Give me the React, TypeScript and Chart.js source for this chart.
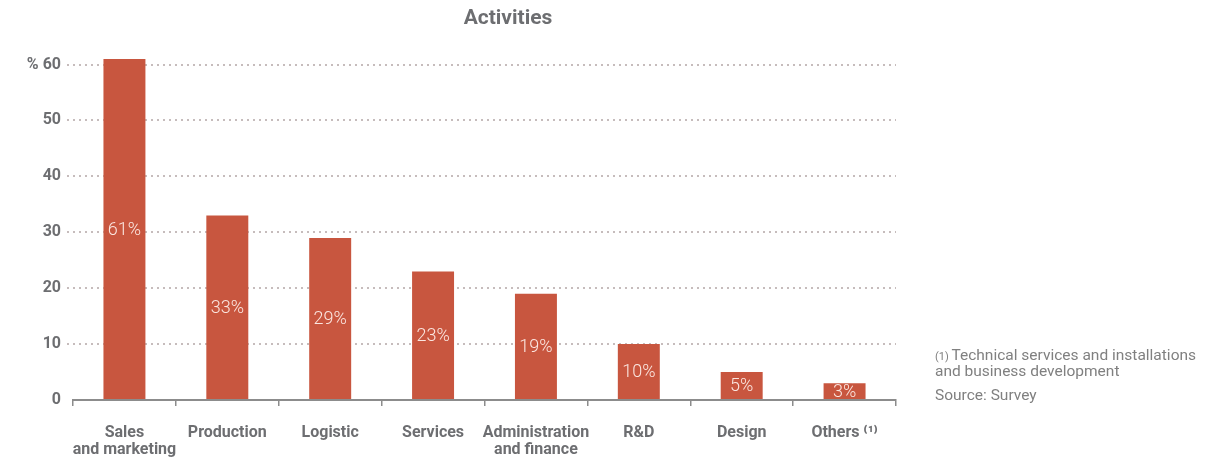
import React, { useEffect, useRef } from "react";
import { Chart, registerables } from "chart.js";

Chart.register(...registerables);

const categories: (string | string[])[] = [
  ["Sales", "and marketing"],
  "Production",
  "Logistic",
  "Services",
  ["Administration", "and finance"],
  "R&D",
  "Design",
  "Others ⁽¹⁾",
];
const values = [61, 33, 29, 23, 19, 10, 5, 3];
const yTicks = [0, 10, 20, 30, 40, 50, 60];
const titleText = "Activities";
const footnoteLines = [
  "Technical services and installations",
  "and business development",
];
const sourceText = "Source: Survey";

const GRAY = "#6d6e71";
const BAR = "#c8563f";
const FONT = "Roboto, 'Noto Sans', sans-serif";

const W = 1232;
const H = 458;

const textPlugin = {
  id: "textPlugin",
  afterDraw(chart: any) {
    const ctx = chart.ctx;
    const meta = chart.getDatasetMeta(0);
    ctx.save();
    // value labels in bars
    ctx.font = `300 18px ${FONT}`;
    ctx.fillStyle = "#fbe6e0";
    ctx.textAlign = "center";
    ctx.textBaseline = "middle";
    meta.data.forEach((bar: any, i: number) => {
      const y = (bar.y + bar.base) / 2;
      ctx.fillText(`${values[i]}%`, bar.x, y + 1);
    });
    // title
    ctx.font = `bold 21px ${FONT}`;
    ctx.fillStyle = GRAY;
    ctx.textAlign = "center";
    ctx.textBaseline = "middle";
    ctx.fillText(titleText, 508, 19);
    // footnote
    const fx = 935;
    ctx.textAlign = "left";
    ctx.textBaseline = "middle";
    ctx.fillStyle = "#808080";
    ctx.font = `11px ${FONT}`;
    ctx.fillText("(1)", fx, 357);
    const w = ctx.measureText("(1) ").width;
    ctx.font = `15.5px ${FONT}`;
    ctx.fillText(footnoteLines[0], fx + w, 356);
    ctx.fillText(footnoteLines[1], fx, 372);
    ctx.fillText(sourceText, fx, 396);
    ctx.restore();
  },
};

export default function App() {
  const ref = useRef<HTMLCanvasElement>(null);
  useEffect(() => {
    document.body.style.margin = "0";
    document.body.style.overflow = "hidden";
    if (!ref.current) return;
    const chart = new Chart(ref.current, {
      type: "bar",
      data: {
        labels: categories,
        datasets: [
          {
            data: values,
            backgroundColor: BAR,
            barPercentage: 1,
            categoryPercentage: 0.408,
          },
        ],
      },
      options: {
        animation: false,
        responsive: false,
        maintainAspectRatio: false,
        layout: { padding: { left: 0, right: 336, top: 59, bottom: 0 } },
        plugins: {
          legend: { display: false },
          title: { display: false },
          tooltip: { enabled: false },
        },
        scales: {
          x: {
            offset: true,
            border: { display: true, color: "#8c8c8c", width: 2 },
            grid: {
              offset: true,
              drawOnChartArea: false,
              drawTicks: true,
              tickLength: 6,
              color: "#8c8c8c",
              lineWidth: 1.5,
            },
            ticks: {
              color: GRAY,
              font: { family: FONT, size: 16, weight: "bold", lineHeight: 1.05 },
              padding: 19,
              maxRotation: 0,
              autoSkip: false,
            },
            afterFit(scale: any) {
              scale.height = 58;
            },
          },
          y: {
            min: 0,
            max: 61,
            border: { display: false, dash: [2, 4] },
            afterBuildTicks(scale: any) {
              scale.ticks = yTicks.map((v) => ({ value: v }));
            },
            afterFit(scale: any) {
              scale.width = 73;
            },
            grid: {
              color: (c: any) => (c.tick && c.tick.value === 0 ? "rgba(0,0,0,0)" : "#c6bcbc"),
              lineWidth: 2,
              tickLength: 6,
              drawTicks: true,
              tickBorderDash: [2, 4],
            } as any,
            ticks: {
              color: GRAY,
              padding: 6,
              font: { family: FONT, size: 16, weight: "bold" },
              callback: (v: any) => (v === 60 ? `% ${v}` : `${v}`),
            },
          },
        },
      } as any,
      plugins: [textPlugin],
    });
    return () => chart.destroy();
  }, []);
  return (
    <div style={{ width: W, height: H }}>
      <canvas ref={ref} width={W} height={H} style={{ display: "block" }} />
    </div>
  );
}
